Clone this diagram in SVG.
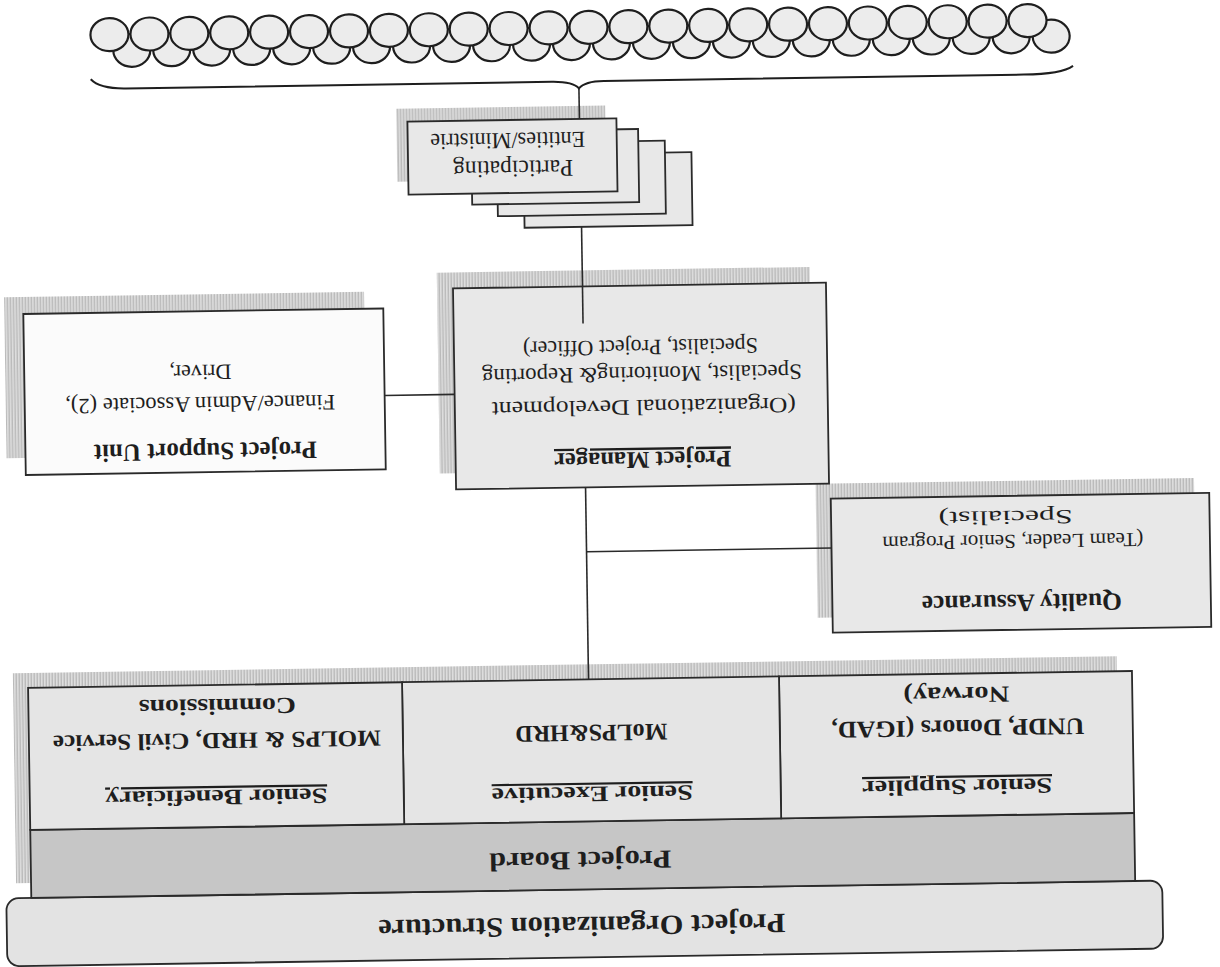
<svg xmlns="http://www.w3.org/2000/svg" width="1220" height="967" viewBox="0 0 1220 967">
<defs>
<pattern id="hatch" width="3" height="4" patternUnits="userSpaceOnUse"><rect width="3" height="4" fill="#dedede"/><rect width="1.4" height="4" fill="#bababa"/></pattern>
<style>
.box{fill:#e8e8e8;stroke:#2a2a2a;stroke-width:1.8}
.white{fill:#fbfbfb}
.shadow{fill:url(#hatch);stroke:none}
.t{font-family:"Liberation Serif",serif;fill:#1e1e1e;text-anchor:middle}
.b{font-weight:bold}
.u{text-decoration:underline}
.conn{stroke:#2a2a2a;stroke-width:1.6;fill:none}
.brace{stroke:#1e1e1e;stroke-width:2;fill:none}
.oval{fill:#ececec;stroke:#1e1e1e;stroke-width:2.2}
</style>
</defs>
<rect width="1220" height="967" fill="#ffffff"/>
<g transform="rotate(179.12 610 483.5)">
  <g id="org-structure">
    <rect class="box" x="64" y="10" width="1156" height="68" rx="12" style="fill:#e3e3e3"/>
    <text class="t b" x="645" y="50.5" font-size="28" textLength="407" lengthAdjust="spacingAndGlyphs">Project Organization Structure</text>
  </g>
  <g id="project-board">
    <rect class="shadow" x="106" y="93" width="1104" height="210"/>
    <rect class="box" x="91" y="78" width="1104" height="68" style="fill:#c6c6c6"/>
    <text class="t b" x="645.5" y="115.5" font-size="26" textLength="182" lengthAdjust="spacingAndGlyphs">Project Board</text>
  </g>
  <g id="senior-supplier">
    <rect class="box" x="91" y="146" width="353" height="142" style="fill:#e5e5e5"/>
    <text class="t b u" x="267.5" y="182" font-size="22" textLength="190" lengthAdjust="spacingAndGlyphs">Senior Supplier</text>
    <text class="t b" x="266" y="241.5" font-size="24" textLength="253" lengthAdjust="spacingAndGlyphs">UNDP, Donors (IGAD,</text>
    <text class="t b" x="267" y="274.5" font-size="23" textLength="106" lengthAdjust="spacingAndGlyphs">Norway)</text>
  </g>
  <g id="senior-executive">
    <rect class="box" x="444" y="146" width="377" height="142" style="fill:#e5e5e5"/>
    <text class="t b u" x="632.5" y="180.5" font-size="22" textLength="201" lengthAdjust="spacingAndGlyphs">Senior Executive</text>
    <text class="t b" x="632.5" y="242.3" font-size="24" textLength="152" lengthAdjust="spacingAndGlyphs">MoLPS&amp;HRD</text>
  </g>
  <g id="senior-beneficiary">
    <rect class="box" x="821" y="146" width="374" height="142" style="fill:#e5e5e5"/>
    <text class="t b u" x="1008.5" y="183" font-size="22" textLength="222" lengthAdjust="spacingAndGlyphs">Senior Beneficiary</text>
    <text class="t b" x="1007" y="240" font-size="23" textLength="328" lengthAdjust="spacingAndGlyphs">MOLPS &amp; HRD, Civil Service</text>
    <text class="t b" x="1006" y="274" font-size="23" textLength="157" lengthAdjust="spacingAndGlyphs">Commissions</text>
  </g>
  <g id="quality-assurance">
    <rect class="shadow" x="26" y="346" width="378.5" height="134"/>
    <rect class="box" x="11" y="331" width="378.5" height="134"/>
    <text class="t b" x="200" y="366" font-size="25" textLength="200" lengthAdjust="spacingAndGlyphs">Quality Assurance</text>
    <text class="t" x="208" y="426" font-size="20" textLength="261" lengthAdjust="spacingAndGlyphs">(Team Leader, Senior Program</text>
    <text class="t" x="215" y="450" font-size="20" textLength="134" lengthAdjust="spacingAndGlyphs">Specialist)</text>
  </g>
  <g id="project-manager">
    <rect class="shadow" x="407" y="496" width="373" height="201"/>
    <rect class="box" x="391" y="480" width="373" height="201"/>
    <text class="t b u" x="577" y="514.5" font-size="24" textLength="177" lengthAdjust="spacingAndGlyphs">Project Manager</text>
    <text class="t" x="575" y="566.5" font-size="22" textLength="304" lengthAdjust="spacingAndGlyphs">(Organizational Development</text>
    <text class="t" x="576.5" y="599.5" font-size="22" textLength="320" lengthAdjust="spacingAndGlyphs">Specialist, Monitoring&amp; Reporting</text>
    <text class="t" x="577.5" y="626.5" font-size="22" textLength="235" lengthAdjust="spacingAndGlyphs">Specialist, Project Officer)</text>
  </g>
  <g id="project-support-unit">
    <rect class="shadow" x="853" y="518" width="360" height="161"/>
    <rect class="box white" x="834" y="501" width="360" height="161"/>
    <text class="t b" x="1014" y="530" font-size="25" textLength="223" lengthAdjust="spacingAndGlyphs">Project Support Unit</text>
    <text class="t" x="1018.5" y="576.3" font-size="22" textLength="270" lengthAdjust="spacingAndGlyphs">Finance/Admin Associate (2),</text>
    <text class="t" x="1018" y="608.3" font-size="22">Driver,</text>
  </g>
  <g id="participating-entities">
    <rect class="box" x="523.5" y="740.5" width="168" height="73"/>
    <rect class="box" x="550" y="752.5" width="168" height="73"/>
    <rect class="box" x="576.5" y="764.5" width="167" height="73"/>
    <rect class="shadow" x="609" y="788.5" width="209" height="73"/>
    <rect class="box" x="598" y="775.5" width="209" height="73"/>
    <text class="t" x="702" y="807.5" font-size="24" textLength="120" lengthAdjust="spacingAndGlyphs">Participating</text>
    <text class="t" x="707" y="835.6" font-size="23" textLength="155" lengthAdjust="spacingAndGlyphs">Entities/Ministrie</text>
  </g>
  <g id="population">
    <g class="oval">
      <ellipse cx="162.0" cy="924" rx="18.5" ry="16.5"/><ellipse cx="202.0" cy="924" rx="18.5" ry="16.5"/><ellipse cx="242.0" cy="924" rx="18.5" ry="16.5"/><ellipse cx="281.9" cy="924" rx="18.5" ry="16.5"/><ellipse cx="321.9" cy="924" rx="18.5" ry="16.5"/><ellipse cx="361.9" cy="924" rx="18.5" ry="16.5"/><ellipse cx="401.9" cy="924" rx="18.5" ry="16.5"/><ellipse cx="441.9" cy="924" rx="18.5" ry="16.5"/><ellipse cx="481.8" cy="924" rx="18.5" ry="16.5"/><ellipse cx="521.8" cy="924" rx="18.5" ry="16.5"/><ellipse cx="561.8" cy="924" rx="18.5" ry="16.5"/><ellipse cx="601.8" cy="924" rx="18.5" ry="16.5"/><ellipse cx="641.8" cy="924" rx="18.5" ry="16.5"/><ellipse cx="681.7" cy="924" rx="18.5" ry="16.5"/><ellipse cx="721.7" cy="924" rx="18.5" ry="16.5"/><ellipse cx="761.7" cy="924" rx="18.5" ry="16.5"/><ellipse cx="801.7" cy="924" rx="18.5" ry="16.5"/><ellipse cx="841.7" cy="924" rx="18.5" ry="16.5"/><ellipse cx="881.6" cy="924" rx="18.5" ry="16.5"/><ellipse cx="921.6" cy="924" rx="18.5" ry="16.5"/><ellipse cx="961.6" cy="924" rx="18.5" ry="16.5"/><ellipse cx="1001.6" cy="924" rx="18.5" ry="16.5"/><ellipse cx="1041.6" cy="924" rx="18.5" ry="16.5"/><ellipse cx="1081.5" cy="924" rx="18.5" ry="16.5"/>
      <ellipse cx="185.4" cy="940" rx="19" ry="16.5"/><ellipse cx="225.3" cy="940" rx="19" ry="16.5"/><ellipse cx="265.2" cy="940" rx="19" ry="16.5"/><ellipse cx="305.2" cy="940" rx="19" ry="16.5"/><ellipse cx="345.1" cy="940" rx="19" ry="16.5"/><ellipse cx="385.0" cy="940" rx="19" ry="16.5"/><ellipse cx="424.9" cy="940" rx="19" ry="16.5"/><ellipse cx="464.8" cy="940" rx="19" ry="16.5"/><ellipse cx="504.8" cy="940" rx="19" ry="16.5"/><ellipse cx="544.7" cy="940" rx="19" ry="16.5"/><ellipse cx="584.6" cy="940" rx="19" ry="16.5"/><ellipse cx="624.5" cy="940" rx="19" ry="16.5"/><ellipse cx="664.4" cy="940" rx="19" ry="16.5"/><ellipse cx="704.4" cy="940" rx="19" ry="16.5"/><ellipse cx="744.3" cy="940" rx="19" ry="16.5"/><ellipse cx="784.2" cy="940" rx="19" ry="16.5"/><ellipse cx="824.1" cy="940" rx="19" ry="16.5"/><ellipse cx="864.0" cy="940" rx="19" ry="16.5"/><ellipse cx="904.0" cy="940" rx="19" ry="16.5"/><ellipse cx="943.9" cy="940" rx="19" ry="16.5"/><ellipse cx="983.8" cy="940" rx="19" ry="16.5"/><ellipse cx="1023.7" cy="940" rx="19" ry="16.5"/><ellipse cx="1063.6" cy="940" rx="19" ry="16.5"/><ellipse cx="1103.6" cy="940" rx="19" ry="16.5"/>
    </g>
  </g>
  <g id="connectors">
    <line class="conn" x1="634.5" y1="288" x2="634.5" y2="480"/>
    <line class="conn" x1="389.5" y1="415.6" x2="634.5" y2="415.6"/>
    <line class="conn" x1="764" y1="575" x2="834" y2="575"/>
    <line class="conn" x1="634.5" y1="644" x2="634.5" y2="740.5"/>
    <line class="conn" x1="635" y1="848.5" x2="635" y2="879"/>
    <path class="brace" d="M140.6 894 Q152 886 190 886 L610 886 Q629 886 635 879 Q641 886 662 886 L1088 886 Q1114 886 1123 895.7"/>
  </g>
</g>
</svg>
